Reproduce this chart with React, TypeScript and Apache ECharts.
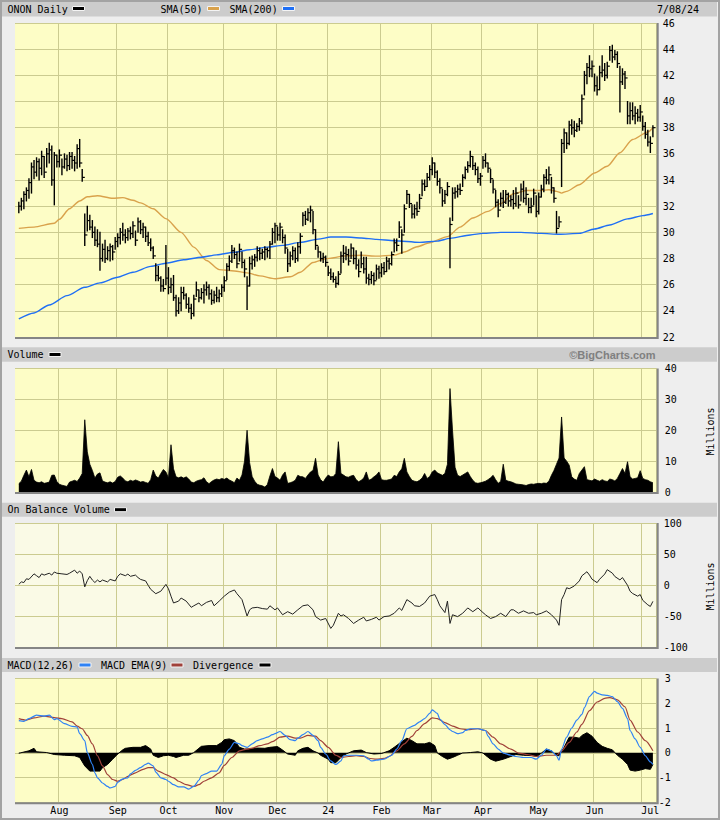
import React, { useEffect, useRef } from 'react';
import * as echarts from 'echarts';

// ---------- categories (trading days) ----------
const START_DAY = '2023-07-10';
const END_DAY = '2024-07-08';
const HOLIDAYS = ['2023-09-04', '2023-11-23', '2023-12-25', '2024-01-01', '2024-01-15', '2024-02-19', '2024-03-29', '2024-05-27', '2024-06-19', '2024-07-04'];
const MONTH_NAMES = ['24', 'Feb', 'Mar', 'Apr', 'May', 'Jun', 'Jul', 'Aug', 'Sep', 'Oct', 'Nov', 'Dec'];

// ---------- price (daily high / low / close) ----------
const HIGH = [
  32.3, 32.6, 33.1, 33.4, 34.1, 35.3, 35.5, 35.7, 35.6, 36.2,
  35.8, 36.4, 36.8, 36.6, 36.1, 35.9, 36.3, 35.6, 36.0, 35.9,
  36.1, 36.1, 35.8, 36.7, 37.1, 34.8, 31.4, 32.0, 31.3, 30.9,
  30.4, 30.2, 30.0, 29.1, 29.4, 28.9, 29.1, 29.0, 29.6, 29.9,
  30.3, 30.7, 30.2, 30.3, 30.4, 30.8, 30.1, 31.1, 30.9, 30.7,
  30.4, 30.0, 29.5, 28.9, 27.6, 27.4, 26.6, 26.4, 29.0, 27.3,
  26.5, 26.7, 25.2, 25.0, 25.8, 25.8, 25.3, 25.0, 24.5, 25.2,
  26.2, 25.6, 25.7, 26.0, 26.2, 26.0, 25.6, 25.5, 25.8, 25.6,
  26.0, 26.6, 27.6, 28.2, 29.0, 28.8, 28.5, 29.1, 28.5, 27.9,
  26.6, 28.1, 28.2, 28.3, 28.9, 28.8, 28.7, 28.9, 28.8, 29.3,
  30.3, 30.7, 30.4, 30.7, 30.2, 29.8, 28.7, 28.5, 28.9, 28.8,
  29.2, 29.9, 31.5, 31.6, 31.8, 32.0, 31.6, 30.2, 28.9, 28.5,
  28.4, 28.2, 27.4, 27.2, 26.9, 26.6, 27.0, 28.5, 29.0, 28.9,
  28.7, 29.1, 28.8, 28.6, 27.9, 28.5, 28.1, 28.1, 26.8, 27.0,
  26.9, 27.5, 27.4, 27.6, 27.7, 28.1, 28.0, 28.5, 29.5, 29.5,
  30.8, 30.2, 32.1, 33.2, 32.9, 32.1, 32.1, 32.3, 32.9, 34.0,
  34.0, 34.5, 35.1, 35.7, 35.3, 34.7, 34.1, 33.3, 33.2, 33.8,
  31.1, 33.4, 33.4, 33.6, 33.7, 34.4, 35.0, 35.4, 36.2, 35.8,
  35.3, 35.0, 34.5, 35.8, 36.0, 35.3, 34.8, 34.0, 33.2, 32.5,
  33.0, 33.2, 33.2, 33.0, 32.8, 33.2, 33.4, 32.8, 33.7, 33.9,
  33.4, 32.6, 32.6, 33.3, 32.8, 33.0, 33.6, 34.4, 34.8, 35.0,
  34.2, 33.4, 31.6, 31.2, 37.1, 37.9, 37.6, 38.5, 38.6, 38.5,
  38.3, 38.7, 40.5, 42.3, 42.9, 43.5, 43.1, 42.1, 41.9, 42.7,
  43.5, 42.9, 43.0, 44.2, 44.3, 43.9, 43.8, 42.7, 42.5, 42.3,
  40.0, 39.9, 39.9, 39.6, 39.4, 39.7, 38.9, 38.4, 37.8, 37.3,
  38.15,
];
const LOW = [
  31.5, 31.7, 31.8, 32.4, 32.6, 33.0, 34.1, 34.3, 34.0, 34.4,
  34.2, 35.0, 35.3, 33.6, 32.1, 35.0, 35.0, 34.4, 34.9, 34.7,
  34.8, 34.9, 34.7, 34.9, 35.0, 33.9, 29.0, 30.1, 30.2, 29.6,
  29.0, 28.9, 27.1, 27.8, 27.7, 27.9, 27.8, 27.9, 28.7, 28.9,
  29.1, 29.4, 29.2, 29.4, 29.5, 29.6, 29.0, 30.0, 29.9, 29.6,
  29.3, 29.0, 28.6, 28.0, 26.3, 26.3, 25.5, 25.5, 26.0, 25.3,
  25.4, 24.8, 23.6, 23.8, 24.0, 24.9, 24.2, 23.9, 23.4, 23.6,
  25.1, 24.7, 24.9, 24.6, 25.2, 24.9, 24.5, 24.6, 24.7, 24.7,
  25.1, 25.5, 26.4, 27.1, 27.7, 28.0, 27.3, 27.8, 27.3, 26.6,
  24.1, 25.9, 27.2, 27.4, 27.8, 27.9, 28.0, 27.9, 28.1, 28.0,
  29.1, 29.2, 29.4, 29.4, 29.2, 28.4, 27.0, 27.4, 27.9, 27.7,
  27.8, 28.4, 30.5, 30.6, 30.9, 30.8, 29.9, 28.7, 28.1, 27.8,
  27.7, 27.4, 26.7, 26.4, 26.2, 25.8, 26.0, 26.9, 27.7, 27.9,
  27.5, 28.0, 27.6, 27.2, 26.6, 27.3, 26.9, 26.1, 26.0, 26.1,
  26.0, 26.4, 26.5, 26.6, 26.8, 27.0, 27.2, 27.5, 28.5, 28.6,
  29.6, 28.4, 30.0, 32.2, 31.9, 31.1, 31.1, 31.3, 31.8, 32.8,
  33.2, 33.5, 34.0, 34.4, 34.2, 33.6, 33.0, 32.0, 32.2, 32.8,
  27.3, 30.9, 32.6, 32.7, 32.9, 33.5, 34.1, 34.6, 35.0, 34.8,
  34.4, 33.8, 33.6, 34.9, 35.0, 34.6, 33.8, 33.0, 31.95, 31.2,
  32.0, 31.9, 32.2, 32.0, 32.0, 31.8, 32.0, 31.85, 32.4, 32.3,
  32.1, 31.5, 31.5, 32.1, 31.2, 31.4, 32.7, 33.1, 33.7, 33.7,
  33.0, 32.3, 29.95, 30.4, 33.5, 36.1, 36.4, 36.7, 37.5, 37.3,
  37.7, 37.8, 38.3, 40.5, 41.35, 41.9, 41.9, 40.8, 40.5, 40.9,
  41.9, 41.6, 41.8, 43.15, 43.0, 43.2, 42.6, 39.2, 41.3, 41.0,
  38.3, 38.3, 38.6, 38.3, 38.5, 38.5, 37.8, 37.2, 36.6, 36.1,
  37.3,
];
const CLOSE = [
  32.0, 32.4, 32.9, 33.2, 33.8, 35.0, 34.6, 35.4, 34.9, 35.8,
  34.6, 36.0, 36.3, 34.0, 35.9, 35.4, 35.9, 35.0, 35.6, 35.1,
  35.8, 35.5, 35.3, 36.4, 35.3, 34.2, 29.8, 30.9, 30.4, 30.0,
  29.4, 29.1, 28.0, 28.7, 28.0, 28.6, 28.9, 28.5, 29.3, 29.6,
  30.0, 29.8, 29.6, 30.1, 29.9, 30.5, 29.4, 30.8, 30.2, 30.4,
  29.7, 29.2, 28.8, 28.2, 26.7, 26.5, 25.9, 25.7, 26.5, 25.8,
  26.0, 25.0, 24.0, 24.6, 25.4, 25.2, 24.5, 24.2, 23.8, 24.9,
  25.6, 25.0, 25.4, 25.6, 25.8, 25.3, 24.8, 25.2, 25.0, 25.3,
  25.8, 26.3, 27.4, 27.8, 28.6, 28.3, 27.6, 28.7, 27.7, 27.2,
  25.9, 27.6, 27.9, 28.1, 28.6, 28.4, 28.5, 28.7, 28.6, 29.1,
  30.0, 30.5, 29.8, 30.4, 29.6, 28.8, 27.6, 28.2, 28.6, 28.0,
  28.9, 29.7, 31.3, 31.0, 31.5, 31.7, 30.2, 29.0, 28.5, 28.0,
  28.1, 27.7, 26.9, 26.6, 26.4, 26.1, 26.8, 28.2, 28.4, 28.3,
  27.8, 28.8, 28.0, 27.5, 27.0, 27.6, 27.2, 26.5, 26.4, 26.7,
  26.3, 27.2, 26.9, 27.3, 27.0, 27.8, 27.6, 28.3, 29.2, 29.0,
  30.4, 29.8, 31.8, 32.9, 32.2, 31.4, 31.8, 31.6, 32.6, 33.7,
  33.5, 34.2, 34.8, 35.3, 34.6, 33.9, 33.4, 32.4, 32.9, 33.5,
  30.6, 33.0, 33.1, 33.3, 33.2, 34.2, 34.8, 35.1, 35.8, 35.1,
  34.8, 34.1, 34.3, 35.5, 35.3, 34.9, 34.1, 33.3, 32.3, 31.7,
  32.6, 32.3, 32.9, 32.4, 32.5, 32.2, 33.0, 32.1, 33.3, 32.6,
  32.9, 31.9, 32.0, 33.0, 31.6, 32.7, 33.3, 34.2, 34.0, 34.4,
  33.4, 32.6, 30.3, 30.8, 36.8, 37.6, 36.8, 38.2, 38.0, 37.8,
  38.1, 38.5, 40.2, 42.0, 42.6, 42.5, 42.7, 41.2, 40.9, 42.2,
  42.4, 42.0, 42.7, 43.9, 43.4, 43.6, 42.9, 41.5, 42.1, 41.8,
  38.9, 39.3, 38.9, 39.1, 38.8, 39.2, 38.1, 37.5, 36.9, 36.8,
  38.0,
];

// ---------- moving averages: [trading-day index, value] ----------
const SMA50 = [
  [0, 30.3], [6, 30.4], [14, 30.7], [16, 31.0], [20, 31.8], [24, 32.4], [27, 32.72], [31, 32.8], [37, 32.6], [41, 32.65],
  [45, 32.45], [48, 32.25], [53, 31.8], [58, 31.05], [64, 30.0], [69, 28.87], [74, 27.85], [79, 27.15], [85, 27.05], [90, 26.9],
  [95, 26.67], [101, 26.45], [107, 26.6], [111, 26.95], [116, 27.7], [121, 27.98], [129, 28.2], [135, 28.25], [141, 28.18], [148, 28.26],
  [152, 28.5], [157, 28.9], [162, 29.2], [169, 29.67], [174, 30.4], [179, 31.1], [185, 31.6], [190, 32.2], [195, 32.95], [200, 33.2],
  [206, 33.2], [209, 33.26], [212, 33.13], [214, 33.0], [216, 33.13], [221, 33.64], [227, 34.54], [232, 35.05], [237, 36.08], [242, 37.1],
  [248, 37.67], [250, 38.0],
];
const SMA200 = [
  [0, 23.38], [6, 23.84], [12, 24.45], [19, 25.16], [26, 25.8], [32, 26.14], [39, 26.57], [45, 26.95], [52, 27.4], [58, 27.64],
  [65, 27.9], [72, 28.1], [78, 28.28], [85, 28.48], [91, 28.67], [98, 28.87], [104, 29.0], [111, 29.23], [118, 29.48], [123, 29.64],
  [129, 29.64], [135, 29.57], [141, 29.46], [148, 29.36], [158, 29.23], [165, 29.33], [170, 29.54], [178, 29.8], [183, 29.92], [190, 30.0],
  [198, 30.0], [206, 29.92], [213, 29.85], [221, 29.92], [227, 30.26], [233, 30.56], [240, 31.03], [246, 31.28], [250, 31.44],
];

// ---------- volume (millions, daily) ----------
const VOLUME = [
  2.7, 3.5, 5.4, 7.1, 4.9, 7.3, 3.8, 3.2, 3.0, 3.3,
  2.8, 3.0, 3.2, 5.4, 5.5, 3.4, 2.5, 2.2, 2.0, 1.8,
  3.2, 3.5, 3.8, 3.4, 4.5, 6.0, 23.4, 13.0, 9.0, 7.0,
  4.5, 5.8, 6.2, 3.6, 3.2, 3.0, 3.3, 2.9, 3.4, 4.8,
  5.2, 4.5, 3.6, 3.3, 3.8, 3.5, 3.9, 3.6, 3.2, 3.4,
  3.1, 2.8, 4.0, 7.1, 5.2, 4.5, 6.0, 7.3, 6.5, 4.6,
  15.3, 7.5, 4.9, 4.6, 4.9, 4.5, 4.9, 4.2, 3.2, 3.0,
  3.5, 3.8, 4.0, 4.6, 3.3, 2.7, 3.4, 3.9, 4.2, 4.0,
  4.4, 4.1, 4.5, 3.9, 3.5, 3.0, 4.5, 3.8, 5.5, 10.0,
  20.0, 9.5, 5.0, 3.5, 2.5, 2.2, 2.0, 1.6, 2.4, 5.2,
  7.6, 5.0, 4.5, 3.8, 5.5, 6.5, 2.8, 3.0, 3.3, 3.8,
  5.4, 5.0, 4.9, 4.4, 5.5, 6.5, 7.0, 10.9, 5.5, 4.0,
  3.2, 4.5, 5.5, 4.9, 5.0, 6.0, 16.3, 6.0, 5.5, 4.9,
  4.8, 5.2, 5.4, 4.0, 3.3, 3.8, 4.5, 6.5, 3.8, 4.2,
  4.9, 5.5, 6.5, 4.0, 3.8, 3.8, 4.0, 4.2, 5.4, 5.0,
  6.5, 7.5, 10.9, 6.5, 5.0, 3.8, 3.5, 3.3, 3.8, 4.5,
  6.0, 4.4, 5.0, 6.5, 7.1, 6.2, 5.8, 5.4, 6.0, 9.0,
  33.5, 20.0, 8.0, 5.4, 5.0, 5.5, 6.0, 6.5, 5.0, 3.8,
  3.0, 2.8, 3.0, 3.2, 3.5, 4.0, 4.6, 5.4, 4.0, 2.8,
  3.5, 9.0, 3.8, 3.5, 3.3, 3.0, 2.6, 2.5, 2.4, 2.3,
  2.1, 2.4, 2.6, 2.5, 2.7, 2.8, 2.7, 2.9, 2.8, 3.5,
  5.4, 7.0, 9.0, 11.0, 24.3, 11.0, 10.0, 8.7, 4.9, 4.2,
  3.8, 6.0, 7.1, 8.2, 4.0, 3.8, 3.6, 4.2, 3.8, 3.5,
  4.0, 3.6, 3.4, 4.2, 4.0, 3.6, 4.4, 6.0, 7.6, 6.0,
  9.8, 4.9, 4.2, 4.4, 4.6, 6.9, 4.4, 4.0, 3.8, 3.3,
  3.0,
];

// ---------- on balance volume (millions): [day, value] ----------
const OBV = [
  [0, 1], [1, 5], [2, 4], [3, 10], [4, 9], [6, 18], [7, 15], [8, 12], [9, 18], [10, 16], [12, 19], [13, 16], [14, 21], [15, 19],
  [17, 18], [19, 17], [20, 19], [22, 24], [23, 19], [24, 22.5], [25, 18], [26, -3], [27, 7], [28, 14], [29, 8], [30, 4], [31, 8],
  [32, 5], [33, 8], [35, 5], [36, 9], [38, 6.6], [39, 14], [40, 18], [42, 15], [43, 17.6], [44, 14], [46, 16], [47, 12], [48, 9],
  [50, 6.6], [51, -0.5], [52, -7], [54, -14], [56, -10], [58, 1], [59, -6], [60, -18], [61, -29], [63, -26], [64, -21], [66, -26],
  [68, -36], [69, -33.5], [71, -29], [72, -33.5], [74, -28], [76, -25], [77, -33.5], [79, -26], [81, -18], [83, -11.5], [85, -8],
  [86, -14], [88, -23.6], [90, -50], [91, -40], [92, -37], [94, -36], [96, -38], [98, -39], [99, -33.5], [101, -40], [102, -37],
  [104, -48], [106, -43], [108, -47], [110, -40], [112, -33.5], [114, -32], [116, -40], [117, -51], [119, -56.6], [121, -54],
  [123, -70], [124, -65], [126, -45.6], [127, -50], [128, -48], [130, -54], [132, -62], [134, -56.6], [136, -52], [137, -58],
  [139, -55.5], [141, -52], [142, -56.6], [144, -51], [146, -50], [148, -45.6], [150, -37], [151, -41], [153, -23.6], [155, -29],
  [156, -33.5], [158, -34.6], [160, -29], [162, -18], [164, -15.4], [165, -23.6], [166, -33.5], [168, -44.5], [169, -26], [170, -62],
  [171, -48], [173, -51], [175, -45.6], [177, -37], [179, -43], [181, -37], [183, -44.5], [184, -48], [186, -54], [188, -51],
  [190, -45.6], [192, -51], [194, -40], [195, -40], [197, -45.6], [199, -41.8], [201, -45.6], [203, -44.5], [204, -48], [206, -45.6],
  [208, -41.8], [210, -48], [212, -56.6], [213, -65], [214, -23.6], [215, -15.4], [216, -4.4], [217, -6], [219, -1.6], [221, 6.6],
  [222, 14.8], [224, 21.4], [225, 16], [226, 9.3], [228, 3.8], [229, 9.3], [231, 17.6], [232, 24.7], [234, 19.2], [235, 13.7],
  [237, 8.2], [238, 12], [240, -0.5], [241, -10], [242, -13.7], [244, -18], [245, -15.4], [246, -24.7], [248, -32], [249, -34.6],
  [250, -26.4],
];

// ---------- MACD: [day, value] ----------
const MACD = [
  [0, 1.3], [2, 1.27], [4, 1.38], [7, 1.52], [10, 1.48], [12, 1.52], [14, 1.34], [15, 1.38], [18, 1.18], [21, 1.07], [23, 1.04],
  [24, 0.77], [26, 0.49], [27, 0.01], [29, -0.47], [30, -0.81], [31, -1.01], [33, -1.22], [35, -1.36], [36, -1.42], [38, -1.36],
  [39, -1.19], [41, -1.05], [43, -1.01], [44, -0.85], [46, -0.71], [48, -0.6], [50, -0.47], [51, -0.42], [53, -0.53], [54, -0.78],
  [56, -1.01], [58, -1.08], [59, -1.15], [61, -1.29], [63, -1.38], [65, -1.38], [67, -1.47], [69, -1.36], [71, -1.11], [72, -0.92],
  [74, -0.84], [76, -0.74], [78, -0.74], [80, -0.47], [81, -0.12], [83, 0.15], [85, 0.42], [87, 0.36], [88, 0.29], [90, 0.22],
  [92, 0.36], [94, 0.49], [96, 0.56], [98, 0.63], [100, 0.73], [101, 0.77], [103, 0.86], [105, 0.7], [107, 0.53], [109, 0.49],
  [110, 0.59], [112, 0.73], [114, 0.86], [116, 0.7], [118, 0.49], [119, 0.22], [121, -0.05], [123, -0.33], [125, -0.47], [127, -0.33],
  [128, -0.12], [130, -0.1], [133, -0.1], [136, -0.12], [138, -0.26], [139, -0.33], [141, -0.3], [144, -0.26], [147, -0.1], [149, 0.15],
  [151, 0.49], [153, 0.97], [156, 1.11], [158, 1.25], [160, 1.38], [162, 1.59], [163, 1.73], [165, 1.59], [166, 1.36], [168, 1.14],
  [170, 0.93], [171, 0.86], [173, 0.77], [175, 0.81], [176, 0.9], [178, 0.97], [181, 0.97], [184, 0.9], [185, 0.67], [187, 0.36],
  [189, 0.15], [191, -0.01], [194, -0.1], [196, -0.15], [199, -0.19], [202, -0.19], [204, -0.26], [206, -0.1], [208, 0.15], [210, 0.08],
  [212, -0.12], [213, -0.3], [214, 0.15], [216, 0.63], [218, 1.0], [220, 1.32], [222, 1.55], [223, 1.82], [225, 2.27], [227, 2.48],
  [228, 2.41], [230, 2.34], [232, 2.32], [234, 2.27], [236, 2.07], [238, 1.79], [240, 1.38], [241, 0.9], [243, 0.56], [245, 0.22],
  [247, -0.12], [249, -0.37], [250, -0.47],
];
const MACD_EMA = [
  [0, 1.38], [3, 1.32], [6, 1.41], [10, 1.48], [14, 1.42], [17, 1.38], [21, 1.25], [23, 1.08], [25, 0.97], [27, 0.7], [29, 0.36],
  [31, -0.12], [33, -0.53], [35, -0.88], [37, -1.08], [39, -1.15], [41, -1.08], [43, -0.95], [46, -0.81], [49, -0.67], [51, -0.6],
  [53, -0.6], [55, -0.74], [58, -0.88], [61, -1.01], [63, -1.15], [66, -1.29], [69, -1.36], [71, -1.29], [73, -1.15], [76, -1.01],
  [79, -0.81], [81, -0.51], [84, -0.19], [87, 0.08], [90, 0.15], [92, 0.19], [95, 0.29], [98, 0.36], [100, 0.45], [103, 0.63],
  [106, 0.67], [109, 0.59], [111, 0.59], [114, 0.7], [117, 0.67], [119, 0.49], [122, 0.22], [125, -0.1], [127, -0.19], [130, -0.15],
  [133, -0.12], [136, -0.15], [138, -0.22], [141, -0.26], [144, -0.23], [146, -0.15], [149, 0.08], [152, 0.36], [155, 0.66], [157, 0.9],
  [160, 1.18], [163, 1.41], [165, 1.38], [168, 1.22], [171, 1.08], [174, 0.97], [177, 0.93], [181, 0.97], [184, 0.9], [187, 0.63],
  [190, 0.36], [194, 0.15], [197, -0.01], [201, -0.08], [204, -0.15], [208, -0.1], [212, -0.1], [214, 0.08], [217, 0.42], [220, 0.84],
  [222, 1.15], [225, 1.7], [228, 2.05], [231, 2.2], [233, 2.23], [236, 2.14], [239, 1.86], [241, 1.32], [244, 0.84], [247, 0.49],
  [250, 0.08],
];
const DIVERGENCE = [
  [0, -0.02], [4, 0.08], [6, 0.18], [7, 0.04], [11, 0.01], [14, -0.07], [18, -0.1], [22, -0.12], [24, -0.19], [26, -0.53], [28, -0.74],
  [30, -0.74], [32, -0.74], [33, -0.6], [35, -0.47], [37, -0.26], [39, -0.05], [41, 0.12], [42, 0.18], [45, 0.22], [48, 0.22],
  [50, 0.29], [52, 0.15], [53, -0.1], [55, -0.19], [57, -0.12], [59, -0.1], [61, -0.15], [62, -0.19], [65, -0.1], [67, -0.1],
  [69, 0.01], [71, 0.18], [72, 0.26], [75, 0.29], [78, 0.29], [80, 0.42], [81, 0.53], [83, 0.56], [85, 0.49], [87, 0.22],
  [89, 0.15], [91, 0.15], [94, 0.19], [97, 0.18], [99, 0.22], [102, 0.25], [104, 0.11], [106, -0.05], [109, -0.1], [110, 0.08],
  [112, 0.18], [114, 0.22], [116, 0.08], [118, -0.01], [119, -0.1], [122, -0.26], [123, -0.4], [125, -0.4], [127, -0.19], [129, -0.05],
  [132, 0.08], [135, 0.11], [137, 0.01], [140, -0.05], [143, -0.03], [146, 0.08], [148, 0.22], [151, 0.45], [153, 0.59], [155, 0.49],
  [157, 0.36], [160, 0.36], [162, 0.42], [164, 0.29], [165, -0.01], [167, -0.15], [169, -0.26], [171, -0.19], [173, -0.1], [175, -0.01],
  [178, 0.01], [181, 0.04], [183, -0.01], [184, -0.1], [186, -0.26], [188, -0.34], [191, -0.26], [194, -0.15], [196, -0.07], [199, -0.1],
  [203, -0.12], [205, -0.1], [208, 0.15], [210, 0.08], [212, -0.1], [213, -0.12], [215, 0.22], [217, 0.63], [219, 0.63], [221, 0.59],
  [222, 0.7], [224, 0.81], [226, 0.67], [228, 0.42], [230, 0.26], [232, 0.18], [234, 0.12], [236, -0.1], [238, -0.26], [240, -0.47],
  [241, -0.7], [243, -0.74], [245, -0.7], [247, -0.64], [249, -0.67], [250, -0.47],
];

// ---------- axis ticks ----------
const PRICE_AXIS = { min: 22, max: 46, interval: 2 };
const VOLUME_AXIS = { min: 0, max: 40, interval: 10 };
const OBV_AXIS = { min: -100, max: 100, interval: 50 };
const MACD_AXIS = { min: -2, max: 3, interval: 1 };

// ---------- styling ----------
const FONT = '"DejaVu Sans Mono", monospace';
const GRID_LINE = '#cbcb90';
const PLOT_BG = '#fdfdc6';
const OBV_BG = '#fafae6';
const HEADER_BG = '#cccccc';
const PAGE_BG = '#eeeeee';
const SMA50_COLOR = '#d9a24c';
const SMA200_COLOR = '#1f6ff5';
const MACD_COLOR = '#2f82f5';
const EMA_COLOR = '#a0413a';

const PLOT_L = 15;
const PLOT_W = 641.7;
const PANELS = [
  { top: 23, height: 314 },
  { top: 368.5, height: 123.5 },
  { top: 523, height: 124 },
  { top: 678.5, height: 123.8 },
];

function tradingDays(): string[] {
  const out: string[] = [];
  const d = new Date(START_DAY + 'T12:00:00Z');
  const end = new Date(END_DAY + 'T12:00:00Z');
  while (d.getTime() <= end.getTime()) {
    const wd = d.getUTCDay();
    const s = d.toISOString().slice(0, 10);
    if (wd !== 0 && wd !== 6 && HOLIDAYS.indexOf(s) < 0) out.push(s);
    d.setUTCDate(d.getUTCDate() + 1);
  }
  return out;
}

function buildOption() {
  const days = tradingDays();
  // one empty slot on each side, as in the original's margins
  const cats = [''].concat(days, ['']);
  const monthStart = new Set<number>();
  for (let i = 1; i < days.length; i++) {
    if (days[i].slice(5, 7) !== days[i - 1].slice(5, 7)) monthStart.add(i + 1);
  }
  const pairs = (arr: number[][]) => arr.map((p) => [p[0] + 1, p[1]]);

  const xAxes = PANELS.map((_, gi) => ({
    type: 'category',
    gridIndex: gi,
    data: cats,
    boundaryGap: true,
    axisLine: { show: false },
    axisTick: { show: false },
    splitLine: {
      show: true,
      interval: (idx: number) => monthStart.has(idx),
      lineStyle: { color: GRID_LINE, width: 1 },
    },
    axisLabel:
      gi === 3
        ? {
            show: true,
            interval: (idx: number) => monthStart.has(idx),
            color: '#000',
            fontFamily: FONT,
            fontSize: 10,
            margin: 3,
            formatter: (v: string) => {
              if (!v) return '';
              const m = parseInt(v.slice(5, 7), 10);
              const name = m === 1 ? v.slice(2, 4) : MONTH_NAMES[m - 1];
              return m === 7 && v.slice(0, 4) === '2024' ? '{j|' + name + '}' : name;
            },
            rich: { j: { padding: [0, 0, 0, 15], fontFamily: FONT, fontSize: 10, color: '#000' } },
          }
        : { show: false },
  }));

  const yAxisBase = (gi: number, ax: any, label: any) => ({
    type: 'value',
    gridIndex: gi,
    position: 'right',
    min: ax.min,
    max: ax.max,
    interval: ax.interval,
    axisLine: { show: false },
    axisTick: { show: false },
    splitLine: { show: true, lineStyle: { color: GRID_LINE, width: 1 } },
    axisLabel: {
      color: '#000',
      fontFamily: FONT,
      fontSize: 10,
      showMinLabel: true,
      showMaxLabel: true,
      ...label,
    },
  });

  const yAxes = [
    yAxisBase(0, PRICE_AXIS, { margin: 6 }),
    yAxisBase(1, VOLUME_AXIS, { margin: 8 }),
    yAxisBase(2, OBV_AXIS, { margin: 7 }),
    yAxisBase(3, MACD_AXIS, { margin: 14, align: 'right' }),
  ];

  const grids = PANELS.map((p, i) => ({
    left: PLOT_L,
    top: p.top,
    width: PLOT_W,
    height: p.height,
    show: true,
    backgroundColor: i === 2 ? OBV_BG : PLOT_BG,
    borderWidth: 0,
  }));

  const priceData = HIGH.map((h, i) => [i + 1, h, LOW[i], CLOSE[i]]);

  const smoothLine = (data: number[][], color: string, xi: number, width: number, z: number) => ({
    type: 'line', xAxisIndex: xi, yAxisIndex: xi, data: pairs(data), showSymbol: false, symbol: 'none',
    smooth: 0.25, smoothMonotone: 'x', lineStyle: { color, width }, z,
  });

  const series: any[] = [
    smoothLine(SMA50, SMA50_COLOR, 0, 1.4, 2),
    smoothLine(SMA200, SMA200_COLOR, 0, 1.4, 2),
    {
      type: 'custom', xAxisIndex: 0, yAxisIndex: 0, data: priceData, z: 3,
      encode: { x: 0, y: [1, 2, 3] },
      renderItem: (params: any, api: any) => {
        const x = api.value(0);
        const hi = api.coord([x, api.value(1)]);
        const lo = api.coord([x, api.value(2)]);
        const cl = api.coord([x, api.value(3)]);
        return {
          type: 'group',
          children: [
            { type: 'line', shape: { x1: hi[0], y1: hi[1] - 0.5, x2: lo[0], y2: lo[1] + 0.5 }, style: { stroke: '#000', lineWidth: 1.4 } },
            { type: 'line', shape: { x1: cl[0], y1: cl[1], x2: cl[0] + 2.6, y2: cl[1] }, style: { stroke: '#000', lineWidth: 1.2 } },
          ],
        };
      },
    },
    {
      type: 'line', xAxisIndex: 1, yAxisIndex: 1, data: VOLUME.map((v, i) => [i + 1, v]), symbol: 'none',
      lineStyle: { color: '#000', width: 0.8 }, areaStyle: { color: '#000', opacity: 1 }, z: 2,
    },
    {
      type: 'line', xAxisIndex: 2, yAxisIndex: 2, data: pairs(OBV), symbol: 'none',
      lineStyle: { color: '#222', width: 1 }, z: 2,
    },
    {
      type: 'line', xAxisIndex: 3, yAxisIndex: 3, data: pairs(DIVERGENCE), symbol: 'none',
      lineStyle: { color: '#000', width: 1 }, areaStyle: { color: '#000', opacity: 1, origin: 0 }, z: 2,
    },
    smoothLine(MACD_EMA, EMA_COLOR, 3, 1.2, 3),
    smoothLine(MACD, MACD_COLOR, 3, 1.2, 4),
  ];

  const txt = (text: string, x: number, y: number, extra: any = {}) => ({
    type: 'text', x, y, z: 120, silent: true,
    style: { text, fill: '#000', font: '10px ' + FONT, textAlign: 'left', textVerticalAlign: 'middle', ...extra },
  });
  const swatch = (x: number, y: number, color: string) => ({
    type: 'rect', z: 120, silent: true,
    shape: { x, y, width: 12, height: 4 },
    style: { fill: color, stroke: '#f4f4f4', lineWidth: 1 },
  });
  const header = (y: number, h: number) => ({
    type: 'rect', z: 110, silent: true, shape: { x: 2, y, width: 715, height: h }, style: { fill: HEADER_BG },
  });

  const edges = PANELS.map((p) => ({
    type: 'polyline', z: 115, silent: true,
    shape: { points: [[PLOT_L, p.top + p.height + 1], [PLOT_L + PLOT_W + 1, p.top + p.height + 1], [PLOT_L + PLOT_W + 1, p.top]] },
    style: { stroke: '#858585', lineWidth: 2, fill: null },
  }));

  const graphic: any[] = [
    { type: 'rect', z: 100, silent: true, shape: { x: 1, y: 1, width: 718, height: 818 }, style: { fill: 'none', stroke: '#a3a3a3', lineWidth: 2 } },
    header(2, 14.5),
    header(347.3, 14.4),
    header(502.7, 14),
    header(658, 14),
    txt('ONON Daily', 7.5, 9),
    swatch(72.5, 6.5, '#000'),
    txt('SMA(50)', 160.5, 9),
    swatch(207.5, 6.5, SMA50_COLOR),
    txt('SMA(200)', 229.5, 9),
    swatch(282.5, 6.5, SMA200_COLOR),
    txt('7/08/24', 657, 9),
    txt('Volume', 7.5, 354.5),
    swatch(49, 352.5, '#000'),
    {
      type: 'text', x: 655.6, y: 354.5, z: 120, silent: true,
      style: { text: '\u00a9BigCharts.com', fill: '#808080', font: 'bold 11px "Liberation Sans", Arial, sans-serif', textAlign: 'right', textVerticalAlign: 'middle' },
    },
    txt('On Balance Volume', 7.5, 509.7),
    swatch(114.5, 507.7, '#000'),
    txt('MACD(12,26)', 7.5, 665),
    swatch(79, 663, MACD_COLOR),
    txt('MACD EMA(9)', 101, 665),
    swatch(171, 663, EMA_COLOR),
    txt('Divergence', 193, 665),
    swatch(259, 663, '#000'),
    { ...txt('Millions', 710.5, 431.5, { textAlign: 'center' }), rotation: Math.PI / 2 },
    { ...txt('Millions', 710.5, 586.5, { textAlign: 'center' }), rotation: Math.PI / 2 },
    ...edges,
  ];

  return {
    animation: false,
    backgroundColor: PAGE_BG,
    grid: grids,
    xAxis: xAxes,
    yAxis: yAxes,
    series,
    graphic,
  };
}

export default function App() {
  const ref = useRef<HTMLDivElement>(null);
  useEffect(() => {
    if (!ref.current) return;
    const chart = echarts.init(ref.current, undefined, { renderer: 'svg' });
    chart.setOption(buildOption() as any);
    return () => chart.dispose();
  }, []);
  return <div ref={ref} style={{ position: 'absolute', left: 0, top: 0, width: 720, height: 820 }} />;
}
